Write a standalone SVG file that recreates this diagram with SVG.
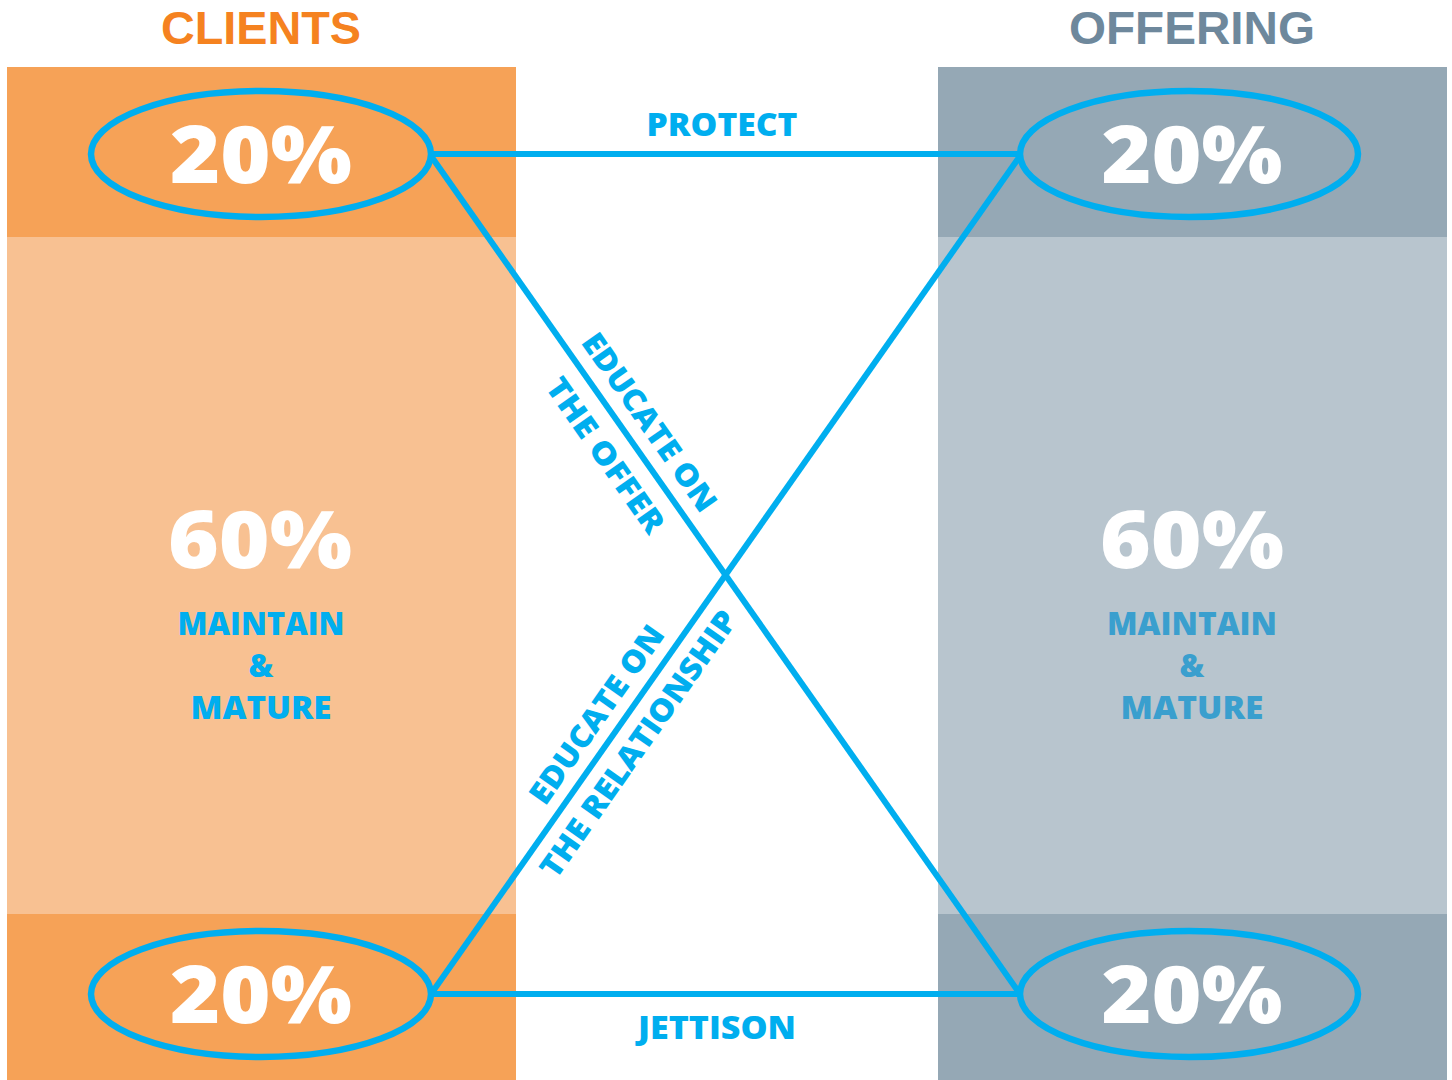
<svg xmlns="http://www.w3.org/2000/svg" width="1452" height="1080" viewBox="0 0 1452 1080">
<style>
text{font-family:"Open Sans","Liberation Sans",sans-serif;font-weight:800;text-anchor:middle}
.title{font-family:"Liberation Sans",Arial,sans-serif;font-weight:700;font-size:46px}
.big{font-size:80px;fill:#fff}
.lbl{font-size:31px;fill:#00AEEF}
.lblr{font-size:31px;fill:#3A9FCE}
.ell{fill:none;stroke:#00AEEF;stroke-width:6.5}
.con{fill:none;stroke:#00AEEF;stroke-width:6}
</style>
<rect width="1452" height="1080" fill="#fff"/>
<g id="clients-column">
<rect x="7" y="67" width="509" height="170" fill="#F6A257"/>
<rect x="7" y="237" width="509" height="677" fill="#F8C192"/>
<rect x="7" y="914" width="509" height="166" fill="#F6A257"/>
<text class="title" x="261" y="44" fill="#F58220" textLength="200" lengthAdjust="spacingAndGlyphs">CLIENTS</text>
</g>
<g id="offering-column">
<rect x="938" y="67" width="509" height="170" fill="#95A8B5"/>
<rect x="938" y="237" width="509" height="677" fill="#B8C5CE"/>
<rect x="938" y="914" width="509" height="166" fill="#95A8B5"/>
<text class="title" x="1192" y="44" fill="#6E889C" textLength="246" lengthAdjust="spacingAndGlyphs">OFFERING</text>
</g>
<g id="connectors">
<line class="con" x1="431" y1="154" x2="1020" y2="154"/>
<line class="con" x1="431" y1="994" x2="1020" y2="994"/>
<line class="con" x1="431" y1="156" x2="1020" y2="994"/>
<line class="con" x1="431" y1="994" x2="1020" y2="156"/>
<text class="lbl" x="722" y="136" textLength="151" lengthAdjust="spacingAndGlyphs">PROTECT</text>
<text class="lbl" x="717" y="1039" textLength="158" lengthAdjust="spacingAndGlyphs">JETTISON</text>
<g transform="translate(725.5,574) rotate(54.96)">
<text class="lbl" x="-168" y="-14" textLength="210" lengthAdjust="spacingAndGlyphs">EDUCATE ON</text>
<text class="lbl" x="-166" y="41" textLength="182" lengthAdjust="spacingAndGlyphs">THE OFFER</text>
</g>
<g transform="translate(725.5,574) rotate(-54.96)">
<text class="lbl" x="-189" y="-14" textLength="210" lengthAdjust="spacingAndGlyphs">EDUCATE ON</text>
<text class="lbl" x="-189" y="37" textLength="318" lengthAdjust="spacingAndGlyphs">THE RELATIONSHIP</text>
</g>
</g>
<g id="clients-top">
<ellipse class="ell" cx="261" cy="154" rx="170" ry="63"/>
<text class="big" x="261" y="183" textLength="182" lengthAdjust="spacingAndGlyphs">20%</text>
</g>
<g id="clients-middle">
<text class="big" x="260" y="568" textLength="184" lengthAdjust="spacingAndGlyphs">60%</text>
<text class="lbl" x="261" y="635" textLength="167" lengthAdjust="spacingAndGlyphs">MAINTAIN</text>
<text class="lbl" x="261" y="677">&amp;</text>
<text class="lbl" x="261" y="719" textLength="141" lengthAdjust="spacingAndGlyphs">MATURE</text>
</g>
<g id="clients-bottom">
<ellipse class="ell" cx="261" cy="994" rx="170" ry="63"/>
<text class="big" x="261" y="1023" textLength="182" lengthAdjust="spacingAndGlyphs">20%</text>
</g>
<g id="offering-top">
<ellipse class="ell" cx="1189" cy="154" rx="169" ry="63"/>
<text class="big" x="1192" y="183" textLength="181" lengthAdjust="spacingAndGlyphs">20%</text>
</g>
<g id="offering-middle">
<text class="big" x="1192" y="568" textLength="184" lengthAdjust="spacingAndGlyphs">60%</text>
<text class="lblr" x="1192" y="635" textLength="170" lengthAdjust="spacingAndGlyphs">MAINTAIN</text>
<text class="lblr" x="1192" y="677">&amp;</text>
<text class="lblr" x="1192" y="719" textLength="143" lengthAdjust="spacingAndGlyphs">MATURE</text>
</g>
<g id="offering-bottom">
<ellipse class="ell" cx="1189" cy="994" rx="169" ry="63"/>
<text class="big" x="1192" y="1023" textLength="181" lengthAdjust="spacingAndGlyphs">20%</text>
</g>
</svg>
